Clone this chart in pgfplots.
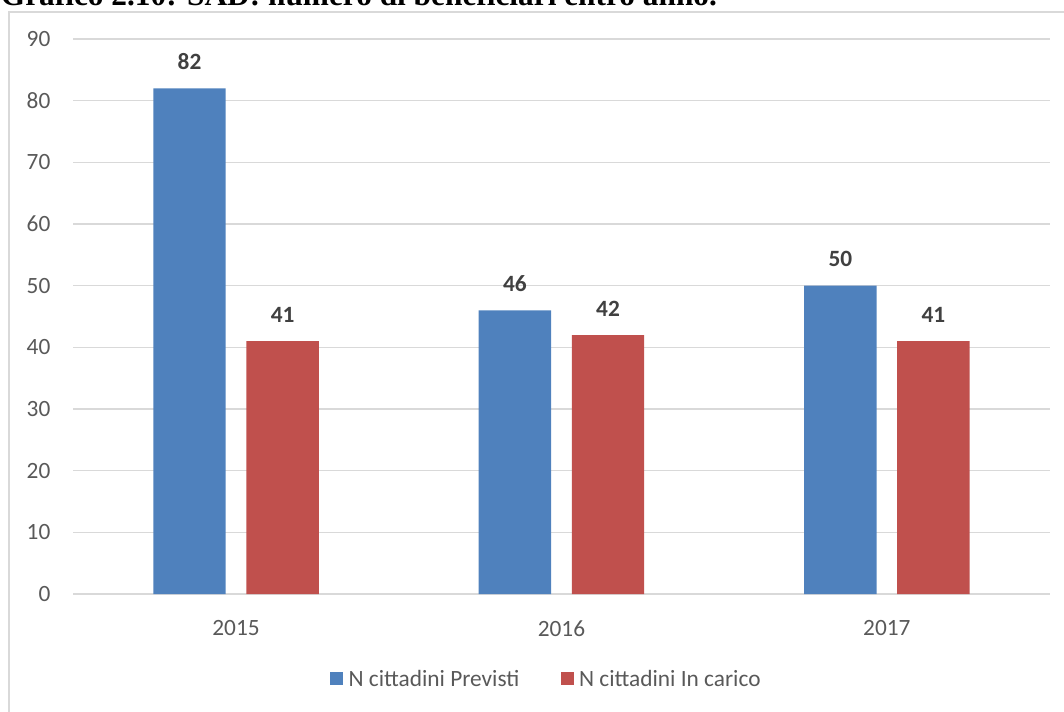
\documentclass[border=0pt]{standalone}
\usepackage{fontspec}
\setmainfont{Carlito}
\newfontfamily\titlefont{Liberation Serif}
\usepackage{pgfplots}
\pgfplotsset{compat=1.18}
\definecolor{cblue}{HTML}{4F81BD}
\definecolor{cred}{HTML}{C0504D}
\definecolor{gridgray}{HTML}{D9D9D9}
\definecolor{txtgray}{HTML}{595959}
\definecolor{lblgray}{HTML}{404040}
\begin{document}
\begin{tikzpicture}
\useasboundingbox (0,0) rectangle (798pt,533.25pt);
\clip (0,0) rectangle (798pt,533.25pt);
\node[anchor=base west, inner sep=0pt, font=\titlefont\bfseries\fontsize{23.5}{28}\selectfont] at (0.5pt,529.1pt) {Grafico 2.10: SAD: numero di beneficiari entro anno.};
\draw[gridgray, line width=1pt] (6.75pt,-10pt) rectangle (810pt,524.25pt);
\begin{axis}[
  at={(55pt,87.75pt)}, anchor=south west,
  scale only axis, width=732.2pt, height=416.25pt,
  xmin=-0.5, xmax=2.5, ymin=0, ymax=90,
  ybar=15.5pt, bar width=54.3pt,
  axis line style={draw=none},
  major tick length=0pt,
  ytick={0,10,...,90},
  xtick={0,1,2}, xticklabels={2015,2016,2017},
  ymajorgrids, grid style={gridgray, line width=1pt},
  /pgf/number format/assume math mode=true,
  tick label style={font=\fontsize{17.5}{21}\selectfont, text=txtgray},
  yticklabel style={anchor=east, inner sep=0pt, xshift=-17pt},
  xticklabel style={anchor=north, inner sep=0pt, yshift=-19.5pt},
  nodes near coords,
  nodes near coords style={font=\bfseries\fontsize{17.5}{21}\selectfont, text=lblgray, anchor=south, inner sep=0pt, yshift=14pt},
  legend image code/.code={\fill[#1] (0pt,-4.875pt) rectangle (9.75pt,4.875pt);},
  legend style={draw=none, fill=none, at={(0.4863,-0.153)}, anchor=center,
    font=\fontsize{17.5}{21}\selectfont, text=txtgray, legend columns=2,
    /tikz/every even column/.append style={column sep=27pt},
    nodes={inner sep=4pt}},
  clip=false,
]
\addplot[fill=cblue, draw=none] coordinates {(0,82) (1,46) (2,50)};
\addplot[fill=cred, draw=none] coordinates {(0,41) (1,42) (2,41)};
\legend{N cittadini Previsti, N cittadini In carico}
\end{axis}
\end{tikzpicture}
\end{document}
